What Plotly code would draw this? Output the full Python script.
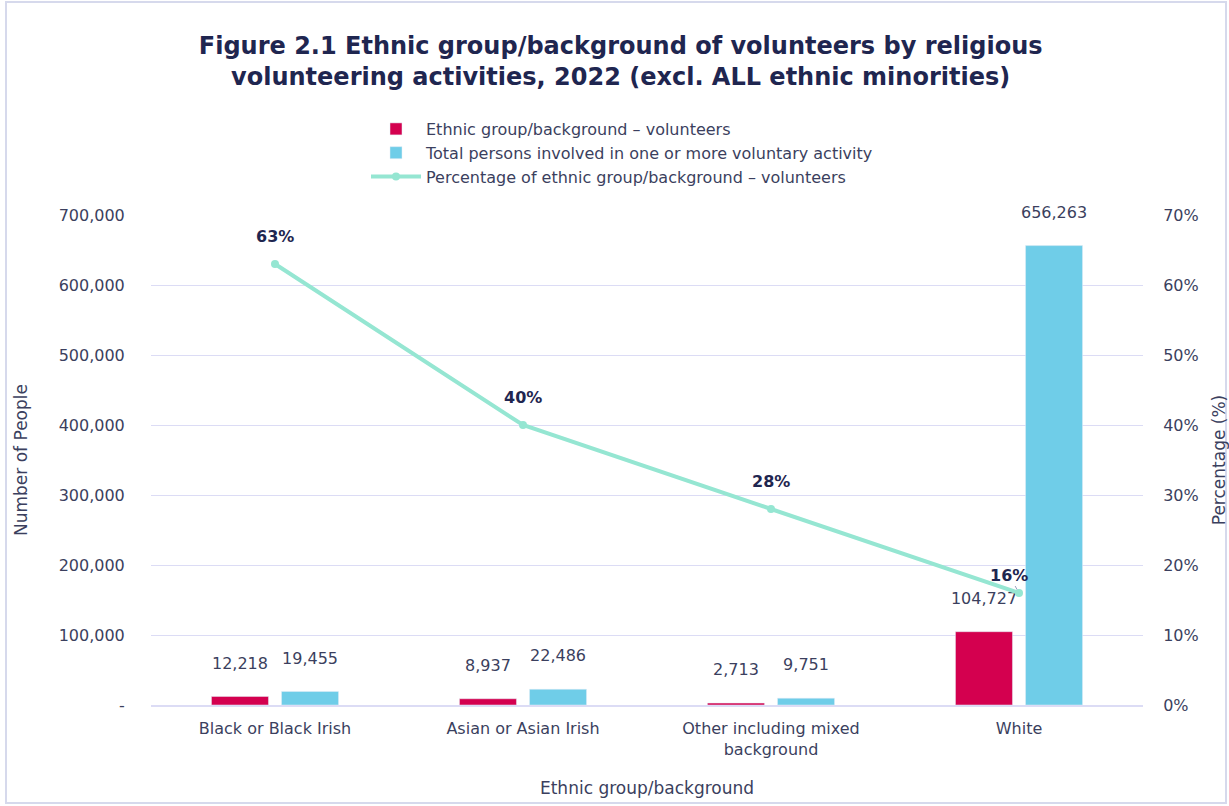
import plotly.graph_objects as go

categories = ["Black or Black Irish", "Asian or Asian Irish", "Other including mixed<br>background", "White"]
volunteers = [12218, 8937, 2713, 104727]
total_persons = [19455, 22486, 9751, 656263]
percentage = [63, 40, 28, 16]
left_ticks = [0, 100000, 200000, 300000, 400000, 500000, 600000, 700000]
left_tick_text = ["-", "100,000", "200,000", "300,000", "400,000", "500,000", "600,000", "700,000"]
right_ticks = [0, 10, 20, 30, 40, 50, 60, 70]
right_tick_text = ["0%", "10%", "20%", "30%", "40%", "50%", "60%", "70%"]

NAVY = "#1f2650"
TXT = "#3b3f5e"
RED = "#d4004f"
BLUE = "#6fcde8"
MINT = "#95e6d2"
GRID = "#dcdcf5"
FONT = "DejaVu Sans"

fig = go.Figure()
fig.add_trace(go.Bar(
    x=categories, y=volunteers, name="Ethnic group/background \u2013 volunteers",
    marker_color=RED, texttemplate="%{y:,}<br>\u00a0", textposition="outside", constraintext="none",
    textfont=dict(size=16, color=TXT, family=FONT), cliponaxis=False))
fig.add_trace(go.Bar(
    x=categories, y=total_persons, name="Total persons involved in one or more voluntary activity",
    marker_color=BLUE, texttemplate="%{y:,}<br>\u00a0", textposition="outside", constraintext="none",
    textfont=dict(size=16, color=TXT, family=FONT), cliponaxis=False))
fig.add_trace(go.Scatter(
    x=categories, y=percentage, name="Percentage of ethnic group/background \u2013 volunteers",
    mode="lines+markers", yaxis="y2", line=dict(color=MINT, width=4),
    marker=dict(size=8, color=MINT), cliponaxis=False))

annotations = []
for i, (c, p) in enumerate(zip(categories, percentage)):
    if i < len(categories) - 1:
        annotations.append(dict(x=c, y=p, xref="x", yref="y2", text=f"<b>{p}%</b>",
                                showarrow=False, yshift=28,
                                font=dict(size=16, color=NAVY, family=FONT)))
    else:
        annotations.append(dict(x=c, y=p, xref="x", yref="y2", text=f"<b>{p}%</b>",
                                showarrow=True, ax=-10, ay=-18, arrowhead=0, arrowwidth=1,
                                arrowcolor="#9aa0c0", standoff=4,
                                font=dict(size=16, color=NAVY, family=FONT)))

fig.update_layout(
    width=1229, height=806,
    margin=dict(l=151, r=86, t=215, b=101, autoexpand=False),
    paper_bgcolor="white", plot_bgcolor="white",
    font=dict(family=FONT, color=TXT, size=16),
    title=dict(text="<b>Figure 2.1 Ethnic group/background of volunteers by religious<br>volunteering activities, 2022 (excl. ALL ethnic minorities)</b>",
               x=0.505, xanchor="center", xref="container",
               y=1 - 54 / 806, yanchor="top", yref="container",
               font=dict(size=24, color=NAVY, family=FONT)),
    barmode="group", bargap=0.435, bargroupgap=0.186,
    legend=dict(x=(366 - 151) / 992, y=(705 - 112) / 490, xanchor="left", yanchor="top",
                orientation="v", font=dict(size=16, color=TXT, family=FONT),
                itemwidth=50, tracegroupgap=0, bgcolor="rgba(0,0,0,0)"),
    xaxis=dict(title=dict(text="Ethnic group/background", font=dict(size=17, color=TXT), standoff=24),
               tickfont=dict(size=16, color=TXT), showline=True, linecolor=GRID, linewidth=2,
               ticks="", ticklabelstandoff=8),
    yaxis=dict(title=dict(text="Number of People", font=dict(size=17, color=TXT), standoff=26),
               range=[0, 700000], tickvals=left_ticks, ticktext=left_tick_text,
               tickfont=dict(size=16, color=TXT), gridcolor=GRID, gridwidth=1,
               zeroline=False, ticks="outside", ticklen=22, tickcolor="white"),
    yaxis2=dict(title=dict(text="Percentage (%)", font=dict(size=17, color=TXT), standoff=20),
                range=[0, 70], tickvals=right_ticks, ticktext=right_tick_text,
                overlaying="y", side="right", showgrid=False, zeroline=False,
                tickfont=dict(size=16, color=TXT), ticks="outside", ticklen=16, tickcolor="white"),
    annotations=annotations,
    shapes=[dict(type="rect", xref="paper", yref="paper",
                 x0=(6 - 151) / 992, x1=(1226 - 151) / 992,
                 y0=(705 - 803) / 490, y1=(705 - 2) / 490,
                 line=dict(color="#d6d9ec", width=2), fillcolor="rgba(0,0,0,0)", layer="below")],
)

fig.write_html("out.html", config={"displayModeBar": False},
               post_script="document.body.style.margin='0';document.body.style.overflow='hidden';")
